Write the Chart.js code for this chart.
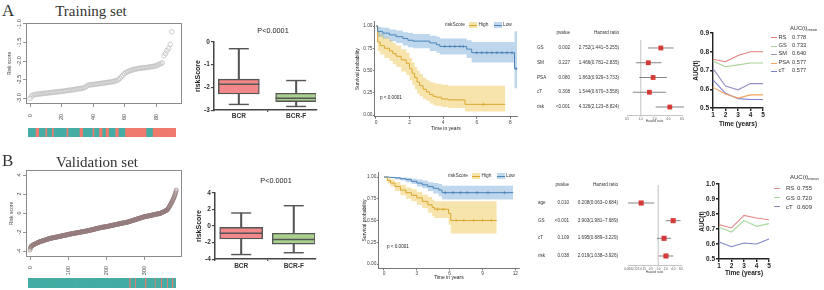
<!DOCTYPE html>
<html><head><meta charset="utf-8">
<script src="https://cdn.jsdelivr.net/npm/chart.js@4.4.1/dist/chart.umd.min.js"></script>
<style>
html,body{margin:0;padding:0;background:#fff;}
#root{position:relative;width:824px;height:290px;overflow:hidden;background:#fff;font-family:"Liberation Sans",Arial,sans-serif;}
canvas{position:absolute;}
.t{position:absolute;white-space:nowrap;line-height:1;}
.t sub{font-size:70%;vertical-align:-0.25em;}
</style></head><body><div id="root"></div>
<script>
// ---------------- DATA ----------------
// Risk score distribution (sorted) - training set
const trainRisk = [-3.01,-2.95,-2.92,-2.91,-2.90,-2.895,-2.89,-2.885,-2.88,-2.875,-2.87,-2.865,-2.86,-2.855,-2.85,-2.845,-2.84,-2.835,-2.83,-2.825,
-2.82,-2.815,-2.81,-2.80,-2.795,-2.79,-2.785,-2.78,-2.775,-2.76,-2.755,-2.75,-2.745,-2.74,-2.73,-2.71,-2.68,-2.65,-2.645,-2.64,
-2.635,-2.63,-2.625,-2.62,-2.61,-2.605,-2.60,-2.595,-2.59,-2.58,-2.575,-2.57,-2.56,-2.55,-2.54,-2.53,-2.51,-2.47,-2.42,-2.38,
-2.34,-2.31,-2.29,-2.27,-2.255,-2.24,-2.23,-2.22,-2.21,-2.20,-2.195,-2.19,-2.185,-2.18,-2.175,-2.17,-2.16,-2.155,-2.15,-2.14,
-2.13,-2.11,-2.09,-2.07,-2.05,-1.86,-1.80,-1.72,-1.66,-1.55,-1.21];
const trainRiskTicksX = [0,20,40,60,80];
const trainRiskTicksY = [-3.0,-2.5,-2.0,-1.5,-1.0];
const trainEventIdx = [5,6,11,15,24,32,33,40,44,45,48,49,54,55,60,61,62,63,64,65,66,67,68,69,70,71,72,77,78,79,80,81,82,83,84,85,86,87,88,89,90];

// Risk score distribution (sorted) - validation set
const valRisk = [
-3.90,-3.70,-3.60,-3.52,-3.47,-3.44,-3.41,-3.39,-3.37,-3.35,-3.33,-3.31,-3.29,-3.27,-3.25,-3.23,-3.21,-3.19,-3.17,-3.15,-3.13,-3.11,-3.09,-3.07,-3.05,-3.04,-3.02,
-3.01,-3.00,-2.98,-2.97,-2.96,-2.94,-2.93,-2.92,-2.90,-2.89,-2.88,-2.86,-2.85,-2.84,-2.82,-2.81,-2.80,-2.78,-2.77,-2.76,-2.74,-2.73,-2.72,-2.71,-2.70,-2.68,-2.67,
-2.66,-2.65,-2.65,-2.64,-2.63,-2.62,-2.61,-2.60,-2.59,-2.59,-2.58,-2.57,-2.56,-2.55,-2.54,-2.53,-2.53,-2.52,-2.51,-2.50,
-2.49,-2.48,-2.47,-2.47,-2.46,-2.45,-2.44,-2.43,-2.42,-2.41,-2.41,-2.40,-2.39,-2.38,-2.37,-2.36,-2.35,-2.35,-2.34,-2.33,
-2.32,-2.31,-2.30,-2.29,-2.29,-2.28,-2.27,-2.25,
-2.24,-2.23,-2.23,-2.22,-2.21,-2.20,-2.20,-2.19,-2.18,-2.17,-2.17,-2.16,-2.15,-2.14,-2.14,-2.13,-2.12,-2.11,-2.11,-2.10,
-2.09,-2.08,-2.08,-2.07,-2.06,-2.05,-2.05,-2.04,-2.03,-2.02,-2.02,-2.01,-2.00,-1.99,-1.99,-1.98,-1.97,-1.96,-1.96,-1.95,
-1.94,-1.93,-1.93,-1.92,-1.91,-1.90,-1.90,-1.89,
-1.88,-1.87,-1.86,-1.85,-1.84,-1.83,-1.82,-1.82,-1.81,-1.80,-1.79,-1.78,-1.77,-1.76,-1.75,-1.74,-1.73,-1.72,-1.71,-1.70,
-1.69,-1.68,-1.67,-1.66,-1.65,-1.64,-1.63,-1.62,-1.61,-1.60,-1.59,-1.58,-1.57,-1.56,-1.55,-1.54,-1.53,-1.52,-1.51,-1.50,
-1.49,-1.49,-1.48,-1.48,-1.47,-1.47,-1.46,-1.46,-1.45,-1.45,-1.44,
-1.43,-1.42,-1.41,-1.41,-1.40,-1.39,-1.38,-1.37,-1.36,-1.35,-1.34,-1.33,-1.33,-1.32,-1.31,-1.30,-1.29,-1.28,-1.27,-1.26,
-1.25,-1.25,-1.24,-1.23,-1.22,-1.21,-1.20,-1.19,-1.18,-1.17,-1.16,-1.16,-1.15,-1.14,-1.13,-1.12,-1.11,-1.10,-1.09,-1.08,
-1.08,-1.07,-1.06,-1.05,-1.04,-1.04,-1.03,-1.02,-1.02,-1.01,-1.00,-0.99,-0.99,-0.98,
-0.97,-0.96,-0.94,-0.93,-0.92,-0.90,-0.89,-0.88,-0.87,-0.85,-0.84,-0.83,-0.82,-0.80,-0.79,-0.78,-0.77,-0.75,-0.74,-0.73,
-0.72,-0.70,-0.69,-0.68,-0.66,-0.65,-0.64,-0.63,-0.61,-0.60,-0.59,-0.57,-0.56,-0.55,-0.53,-0.52,-0.51,-0.49,-0.48,-0.47,
-0.45,-0.44,-0.43,-0.42,-0.41,-0.40,-0.39,
-0.38,-0.37,-0.36,-0.35,-0.35,-0.34,-0.33,-0.32,-0.31,-0.30,-0.29,-0.28,-0.28,-0.27,-0.26,-0.25,-0.24,-0.23,-0.22,-0.21,
-0.21,-0.20,-0.19,-0.18,-0.17,-0.16,-0.15,-0.14,-0.14,-0.13,-0.12,-0.11,-0.10,-0.09,-0.09,-0.08,-0.07,-0.06,-0.06,-0.05,-0.04,
-0.02,0.00,0.02,0.04,0.06,0.08,0.10,0.12,0.14,0.16,0.18,0.20,0.22,0.24,0.26,0.28,0.30,0.32,
0.38,0.44,0.50,0.56,0.62,0.69,0.76,0.84,
0.91,0.98,1.05,1.13,1.21,1.29,1.37,1.45,1.54,
1.64,1.75,1.86,1.98,2.11,2.26,2.42];
const valRiskTicksX = [0,100,200,300];
const valRiskTicksY = [-4,-2,0,2,4];
const valEventIdx = [265,266,267,280,281,306,307,308,331,332,347,348,349,363,364,376,377,378];

// Boxplots
const boxGroups = ['BCR','BCR-F'];
const trainBoxMin = [-2.75,-2.84], trainBoxQ1 = [-2.29,-2.63], trainBoxMed = [-1.86,-2.48], trainBoxQ3 = [-1.64,-2.26], trainBoxMax = [-0.30,-1.70];
const trainBoxTicks = [0,-1,-2,-3];
const valBoxMin = [-3.45,-3.23], valBoxQ1 = [-1.57,-2.19], valBoxMed = [-0.88,-1.63], valBoxQ3 = [-0.16,-0.88], valBoxMax = [1.57,2.45];
const valBoxTicks = [4,2,0,-2,-4];

// Kaplan-Meier - training
const kmTrainHighT = [0,0.1,0.25,0.5,0.8,1.0,1.2,1.5,1.8,2.0,2.15,2.3,2.45,2.6,2.8,3.0,3.2,3.4,3.6,3.9,4.3,5.3,7.7];
const kmTrainHighS = [1,0.82,0.78,0.75,0.72,0.69,0.66,0.62,0.58,0.52,0.47,0.42,0.37,0.33,0.29,0.26,0.23,0.21,0.20,0.18,0.17,0.12,0.12];
const kmTrainHighU = [1,0.94,0.91,0.87,0.84,0.81,0.78,0.74,0.70,0.64,0.59,0.54,0.50,0.46,0.42,0.39,0.37,0.36,0.35,0.34,0.33,0.33,0.33];
const kmTrainHighL = [1,0.72,0.68,0.64,0.61,0.57,0.54,0.49,0.45,0.39,0.34,0.29,0.24,0.21,0.18,0.16,0.13,0.11,0.10,0.09,0.08,0.04,0.04];
const kmTrainHighCensT = [6.4], kmTrainHighCensS = [0.12];
const kmTrainLowT = [0,0.1,0.4,0.8,1.2,1.6,1.9,2.2,3.2,3.6,3.8,5.4,5.7,8.25,8.42];
const kmTrainLowS = [1,0.94,0.92,0.90,0.88,0.86,0.84,0.83,0.81,0.79,0.77,0.74,0.70,0.52,0.52];
const kmTrainLowU = [1,0.99,0.98,0.96,0.95,0.93,0.92,0.91,0.89,0.88,0.86,0.84,0.82,0.94,0.94];
const kmTrainLowL = [1,0.88,0.86,0.83,0.81,0.78,0.76,0.75,0.72,0.70,0.68,0.64,0.59,0.30,0.30];
const kmTrainLowCensT = [4.1,4.4,4.7,5.0,5.2,6.0,6.3,6.6,6.9,7.2,7.5,7.8,8.1,8.35];
const kmTrainLowCensS = [0.77,0.77,0.77,0.77,0.77,0.70,0.70,0.70,0.70,0.70,0.70,0.70,0.70,0.52];
const kmTrainTicks = [0,2,4,6,8];

// Kaplan-Meier - validation
const kmValHighT = [0,0.3,0.6,1.0,1.5,2.0,2.5,3.0,3.5,4.0,4.4,4.6,5.9,6.1,10.3];
const kmValHighS = [1,0.96,0.93,0.89,0.85,0.82,0.79,0.76,0.72,0.68,0.65,0.63,0.58,0.50,0.50];
const kmValHighU = [1,0.99,0.97,0.94,0.91,0.88,0.86,0.83,0.80,0.77,0.74,0.72,0.72,0.72,0.72];
const kmValHighL = [1,0.93,0.89,0.84,0.79,0.75,0.72,0.68,0.64,0.59,0.55,0.53,0.45,0.35,0.35];
const kmValHighCensT = [4.9,5.4,6.6,7.3,8.2,9.0,9.8], kmValHighCensS = [0.63,0.63,0.50,0.50,0.50,0.50,0.50];
const kmValLowT = [0,0.5,1.0,1.5,2.0,2.5,3.0,3.5,4.0,4.5,5.0,5.3,11.8];
const kmValLowS = [1,0.995,0.99,0.98,0.97,0.95,0.93,0.91,0.89,0.87,0.85,0.82,0.82];
const kmValLowU = [1,1,1,0.995,0.99,0.98,0.97,0.96,0.94,0.93,0.92,0.90,0.90];
const kmValLowL = [1,0.99,0.97,0.96,0.94,0.92,0.89,0.87,0.84,0.81,0.78,0.74,0.74];
const kmValLowCensT = [5.6,6.3,7.0,7.6,8.5,9.5,11.0], kmValLowCensS = [0.82,0.82,0.82,0.82,0.82,0.82,0.82];
const kmValTicks = [0,3,6,9,12];
const kmSurvTicks = [0,0.25,0.5,0.75,1];

// Forest plots
const fTrainVars = ['GS','SM','PSA','cT','risk'];
const fTrainP = ['0.002','0.227','0.080','0.308','<0.001'];
const fTrainHR = [2.752,1.466,1.863,1.544,4.326];
const fTrainLo = [1.441,0.781,0.929,0.670,2.123];
const fTrainHi = [5.255,2.835,3.733,3.558,8.824];
const fTrainTicks = [0.5,1,2,4,8];
const fValVars = ['age','GS','cT','risk'];
const fValP = ['0.010','<0.001','0.109','0.038'];
const fValHR = [0.208,3.903,1.695,2.019];
const fValLo = [0.063,1.981,0.889,1.038];
const fValHi = [0.684,7.689,3.229,3.926];
const fValTicks = [0.0625,0.125,0.25,0.5,1,2,4,8];

// Time-dependent AUC
const aucYears = [1,2,3,4,5];
const aucTrainRS = [0.76,0.747,0.78,0.80,0.80];
const aucTrainGS = [0.75,0.72,0.73,0.74,0.74];
const aucTrainSM = [0.71,0.617,0.597,0.63,0.63];
const aucTrainPSA = [0.61,0.575,0.553,0.57,0.57];
const aucTrainCT = [0.65,0.578,0.55,0.545,0.545];
const aucTrainNames = ['RS','GS','SM','PSA','cT'];
const aucTrainMean = ['0.778','0.733','0.640','0.577','0.577'];
const aucTrainTicks = [0.5,0.6,0.7,0.8,0.9];
const aucValRS = [0.729,0.707,0.791,0.773,0.762];
const aucValGS = [0.711,0.68,0.756,0.718,0.736];
const aucValCT = [0.613,0.582,0.607,0.60,0.633];
const aucValNames = ['RS','GS','cT'];
const aucValMean = ['0.755','0.720','0.609'];
const aucValTicks = [0.5,0.6,0.7,0.8,0.9,1.0];

// ---------------- STYLE / HELPERS ----------------
const root = document.getElementById('root');
const FONT = '"Liberation Sans", Arial, sans-serif';
const SERIF = '"Liberation Serif", "DejaVu Serif", serif';
const TEAL = '#45ada4', SALMON = '#ef7a6e';
const HIGH_LINE = '#D9A62E', HIGH_BAND = 'rgba(236,190,60,0.42)';
const LOW_LINE = '#4A83B8', LOW_BAND = 'rgba(100,160,210,0.42)';
const AUC_TRAIN_COLORS = ['#e07e7a','#a8d39a','#9b8cc6','#f2a35e','#7c7fd2'];
const AUC_VAL_COLORS = ['#e08a8a','#a8d89c','#8185c9'];

Chart.defaults.animation = false;
Chart.defaults.responsive = false;
Chart.defaults.maintainAspectRatio = false;
Chart.defaults.devicePixelRatio = 1;
Chart.defaults.events = [];
Chart.defaults.plugins.legend.display = false;
Chart.defaults.plugins.tooltip.enabled = false;
Chart.defaults.font.family = FONT;
Chart.defaults.color = '#333';

function mkCanvas(left, top, w, h){
  const c = document.createElement('canvas');
  c.width = w; c.height = h;
  c.style.left = left+'px'; c.style.top = top+'px';
  c.style.width = w+'px'; c.style.height = h+'px';
  root.appendChild(c); return c;
}
const setTicks = vals => s => { s.ticks = vals.map(v => ({value:v})); };
const fixW = w => s => { s.width = w; };
const fixH = h => s => { s.height = h; };

function T(text, x, y, o = {}){
  const d = document.createElement('div'); d.className = 't';
  d.textContent = text;
  if (o.sub){ const s = document.createElement('sub'); s.textContent = o.sub; d.appendChild(s); }
  d.style.left = x+'px'; d.style.top = y+'px';
  d.style.fontSize = (o.size||6)+'px';
  d.style.fontFamily = o.family || FONT;
  if (o.weight) d.style.fontWeight = o.weight;
  d.style.color = o.color || '#333';
  const ax = o.align==='left' ? '0' : o.align==='right' ? '-100%' : '-50%';
  d.style.transform = `translate(${ax},-50%)` + (o.rot ? ` rotate(${o.rot}deg)` : '');
  root.appendChild(d); return d;
}
function box(x, y, w, h, bg){
  const d = document.createElement('div');
  d.style.cssText = `position:absolute;left:${x}px;top:${y}px;width:${w}px;height:${h}px;background:${bg};`;
  root.appendChild(d); return d;
}

const framePlugin = color => ({id:'frame', afterDatasetsDraw(ch){
  const a = ch.chartArea, c = ch.ctx; c.save(); c.strokeStyle = color; c.lineWidth = 1;
  c.strokeRect(Math.round(a.left)+0.5, Math.round(a.top)+0.5, Math.round(a.right-a.left)-1, Math.round(a.bottom-a.top)-1); c.restore();
}});
const rotYPlugin = (vals, fmt, cx, size) => ({id:'rotY', afterDraw(ch){
  const y = ch.scales.y, c = ch.ctx; c.save(); c.fillStyle = '#444';
  c.font = size+'px '+FONT; c.textAlign = 'center'; c.textBaseline = 'middle';
  vals.forEach(v => { const py = y.getPixelForValue(v); c.save(); c.translate(cx, py); c.rotate(-Math.PI/2); c.fillText(fmt(v), 0, 0); c.restore(); });
  c.restore();
}});

// ---------------- CHART BUILDERS ----------------
function riskPlot(o){
  const cv = mkCanvas(o.left, o.top, o.w, o.h);
  return new Chart(cv, {
    type:'scatter',
    data:{datasets:[{data:o.values.map((v,i)=>({x:i,y:v})), pointStyle:'circle', pointRadius:o.r,
      borderColor:o.color, backgroundColor:'rgba(0,0,0,0)', borderWidth:0.8}]},
    options:{
      layout:{padding:o.pad},
      scales:{
        x:{type:'linear', min:o.xr[0], max:o.xr[1], afterBuildTicks:setTicks(o.xTicks), afterFit:fixH(o.xh),
           border:{display:false},
           grid:{drawOnChartArea:false, tickLength:3, color:'#777', lineWidth:0.8},
           ticks:{minRotation:90, maxRotation:90, padding:o.xpad, font:{size:5.5}, color:'#444', callback:v=>String(v)}},
        y:{type:'linear', min:o.yr[0], max:o.yr[1], afterBuildTicks:setTicks(o.yTicks), afterFit:fixW(o.yw),
           border:{display:false},
           grid:{drawOnChartArea:false, tickLength:3, color:'#777', lineWidth:0.8},
           ticks:{display:false},
           title:{display:true, text:'Risk score', font:{size:5}, color:'#444', padding:{top:o.tpad, bottom:0}}}
      }
    },
    plugins:[framePlugin('#8a8a8a'), rotYPlugin(o.yTicks, o.yFmt, 19, 5.5)]
  });
}

function heatBar(left, top, w, h, n, events){
  const cv = mkCanvas(left, top, w, h);
  const ev = new Set(events);
  const idx = Array.from({length:n}, (_,i)=>i);
  return new Chart(cv, {type:'bar',
    data:{labels:idx, datasets:[{data:idx.map(()=>[0,1]), backgroundColor:idx.map(i=>ev.has(i)?SALMON:TEAL),
      barPercentage:1, categoryPercentage:1, borderWidth:0, inflateAmount:0.4}]},
    options:{layout:{padding:0}, scales:{x:{display:false}, y:{display:false, min:0, max:1}}}});
}

function boxPlot(o){
  const cv = mkCanvas(o.left, o.top, o.w, o.h);
  const idx = boxGroups.map((_,i)=>i);
  return new Chart(cv, {type:'bar',
    data:{datasets:[
      {type:'scatter', data:idx.flatMap(i=>[{x:i,y:o.min[i]},{x:i,y:o.max[i]}]), pointStyle:'line', pointRadius:10, borderColor:'#555', borderWidth:1.4},
      {type:'scatter', data:idx.map(i=>({x:i,y:o.med[i]})), pointStyle:'line', pointRadius:o.bw/2, borderColor:'#555', borderWidth:1.4},
      {type:'bar', data:idx.map(i=>({x:i,y:[o.q1[i],o.q3[i]]})), backgroundColor:['#f2888a','#a9d08e'], borderColor:'#555',
        borderWidth:1.4, borderSkipped:false, barThickness:o.bw, grouped:false},
      {type:'bar', data:idx.map(i=>({x:i,y:[o.min[i],o.max[i]]})), backgroundColor:'#555', borderWidth:0, barThickness:1.4, grouped:false}
    ]},
    options:{
      layout:{padding:o.pad},
      scales:{
        x:{type:'linear', min:o.xr[0], max:o.xr[1], offset:false, afterBuildTicks:setTicks(idx), afterFit:fixH(o.xh),
           border:{color:'#444', width:1.5},
           grid:{drawOnChartArea:false, tickLength:2, color:'#444', lineWidth:1.2},
           ticks:{callback:v=>boxGroups[v], font:{size:6.5, weight:'bold'}, color:'#333', padding:o.xpad, maxRotation:0}},
        y:{min:o.yr[0], max:o.yr[1], afterBuildTicks:setTicks(o.ticks), afterFit:fixW(o.yw),
           border:{color:'#444', width:1.5},
           grid:{drawOnChartArea:false, tickLength:3, color:'#444', lineWidth:1.2},
           ticks:{font:{size:6.5, weight:'bold'}, color:'#333', padding:1},
           title:{display:true, text:'riskScore', font:{size:7, weight:'bold'}, color:'#222', padding:{top:o.tpad, bottom:0}}}
      }
    }});
}

function kmPlot(o){
  const cv = mkCanvas(o.left, o.top, o.w, o.h);
  const P = (t,s)=>t.map((x,i)=>({x, y:s[i]}));
  const band = (d, fill, bg)=>({type:'line', data:d, stepped:'before', borderWidth:0, borderColor:'rgba(0,0,0,0)', pointRadius:0, fill, backgroundColor:bg});
  const line = (d, c)=>({type:'line', data:d, stepped:'before', borderWidth:1, borderColor:c, pointRadius:0, fill:false});
  const cens = (d, c)=>({type:'scatter', data:d, pointStyle:'cross', pointRadius:1.7, borderColor:c, backgroundColor:c, borderWidth:0.7});
  return new Chart(cv, {type:'line',
    data:{datasets:[
      cens(P(o.low.ct, o.low.cs), LOW_LINE),
      cens(P(o.high.ct, o.high.cs), HIGH_LINE),
      line(P(o.low.t, o.low.s), LOW_LINE),
      line(P(o.high.t, o.high.s), HIGH_LINE),
      band(P(o.low.t, o.low.u), '+1', LOW_BAND),
      band(P(o.low.t, o.low.l), false, LOW_BAND),
      band(P(o.high.t, o.high.u), '+1', HIGH_BAND),
      band(P(o.high.t, o.high.l), false, HIGH_BAND)
    ]},
    options:{
      layout:{padding:o.pad},
      scales:{
        x:{type:'linear', min:o.xr[0], max:o.xr[1], afterBuildTicks:setTicks(o.xTicks), afterFit:fixH(o.xh),
           border:{color:'#555', width:0.8},
           grid:{drawOnChartArea:false, tickLength:2, color:'#555', lineWidth:0.8},
           ticks:{font:{size:4.8}, color:'#444', padding:o.xpad, maxRotation:0},
           title:{display:true, text:'Time in years', font:{size:5}, color:'#222', padding:{top:0, bottom:o.xtpad}}},
        y:{type:'linear', min:o.yr[0], max:o.yr[1], afterBuildTicks:setTicks(kmSurvTicks), afterFit:fixW(o.yw),
           border:{color:'#555', width:0.8},
           grid:{drawOnChartArea:false, tickLength:1.5, color:'#555', lineWidth:0.8},
           ticks:{font:{size:4.8}, color:'#444', padding:0.5, callback:v=>v.toFixed(2)},
           title:{display:true, text:'Survival probability', font:{size:5}, color:'#222', padding:{top:o.ytpad, bottom:0}}}
      }
    }});
}

function kmLegend(x, y){
  T('riskScore', x, y, {size:4.8, align:'left', color:'#333'});
  const keys = [[x+24, HIGH_BAND, HIGH_LINE, 'High'], [x+48.5, LOW_BAND, LOW_LINE, 'Low']];
  keys.forEach(([kx, bg, lc, lab]) => {
    box(kx, y-3, 8, 6, bg);
    box(kx, y-0.4, 8, 0.9, lc);
    T(lab, kx+9.5, y, {size:4.8, align:'left', color:'#333'});
  });
}

function forestPlot(o){
  const cv = mkCanvas(o.left, o.top, o.w, o.h);
  const rows = o.hr.map((_,i)=>i);
  const ds = [
    {type:'scatter', data:rows.map(i=>({x:o.hr[i], y:i})), pointStyle:'rect', pointRadius:o.r, backgroundColor:'#d63a36', borderColor:'#d63a36', borderWidth:0, clip:8}
  ];
  rows.forEach(i => ds.push({type:'line', data:[{x:o.lo[i],y:i},{x:o.hi[i],y:i}], borderColor:'#666', borderWidth:0.8, pointRadius:0, clip:8}));
  ds.push({type:'line', data:[{x:1,y:o.yr[0]},{x:1,y:o.yr[1]}], borderColor:'#cfcfcf', borderWidth:0.6, pointRadius:0});
  const ch = new Chart(cv, {type:'scatter', data:{datasets:ds},
    options:{
      layout:{padding:o.pad},
      scales:{
        x:{type:'logarithmic', min:o.xr[0], max:o.xr[1], afterBuildTicks:setTicks(o.ticks), afterFit:fixH(o.xh),
           border:{color:'#888', width:0.5},
           grid:{drawOnChartArea:false, tickLength:1.5, color:'#888', lineWidth:0.5},
           ticks:{font:{size:3}, color:'#555', padding:0.5, maxRotation:0, autoSkip:false, callback:v=> v<1 ? String(+v.toFixed(3)) : v.toFixed(1)},
           title:{display:true, text:'Hazard ratio', font:{size:3.2}, color:'#444', padding:{top:0, bottom:o.xtpad}}},
        y:{display:false, type:'linear', min:o.yr[0], max:o.yr[1], reverse:true}
      }
    }});
  const ys = ch.scales.y;
  T('pvalue', o.pRight, o.headY, {size:4.6, align:'right'});
  T('Hazard ratio', o.hrRight, o.headY, {size:4.6, align:'right'});
  rows.forEach(i => {
    const py = o.top + ys.getPixelForValue(i);
    T(o.vars[i], o.labLeft, py, {size:4.6, align:'left'});
    T(o.p[i], o.pRight, py, {size:4.6, align:'right'});
    T(`${o.hr[i].toFixed(3)}(${o.lo[i].toFixed(3)}~${o.hi[i].toFixed(3)})`, o.hrRight, py, {size:4.6, align:'right'});
  });
  return ch;
}

function aucPlot(o){
  const cv = mkCanvas(o.left, o.top, o.w, o.h);
  return new Chart(cv, {type:'line',
    data:{datasets:o.series.map((s,i)=>({data:aucYears.map((x,j)=>({x, y:s[j]})), borderColor:o.colors[i], borderWidth:1.1, pointRadius:0, fill:false, clip:false}))},
    options:{
      layout:{padding:o.pad},
      scales:{
        x:{type:'linear', min:1, max:5, afterBuildTicks:setTicks(aucYears), afterFit:fixH(o.xh),
           border:{color:'#222', width:1.4},
           grid:{drawOnChartArea:false, tickLength:3, color:'#222', lineWidth:1.4},
           ticks:{font:{size:6.5, weight:'bold'}, color:'#222', padding:o.xpad, maxRotation:0},
           title:{display:true, text:'Time (years)', font:{size:6.5, weight:'bold'}, color:'#222', padding:{top:0, bottom:o.xtpad}}},
        y:{min:o.yr[0], max:o.yr[1], afterBuildTicks:setTicks(o.ticks), afterFit:fixW(o.yw),
           border:{color:'#222', width:1.4},
           grid:{drawOnChartArea:false, tickLength:3, color:'#222', lineWidth:1.4},
           ticks:{font:{size:6.5, weight:'bold'}, color:'#222', padding:1, callback:v=>v.toFixed(1)},
           title:{display:true, text:'AUC(t)', font:{size:6.5, weight:'bold'}, color:'#222', padding:{top:o.ytpad, bottom:0}}}
      }
    }});
}

function aucLegend(x, headY, rowYs, lineX0, lineX1, labX, valX, names, means, colors, size){
  T('AUC(t)', x, headY, {size:size, align:'left', sub:'mean', color:'#333'});
  names.forEach((n,i) => {
    box(lineX0, rowYs[i]-0.5, lineX1-lineX0, 1, colors[i]);
    T(n, labX, rowYs[i], {size:size, align:'left', color:'#333'});
    T(means[i], valX, rowYs[i], {size:size, align:'left', color:'#333'});
  });
}

// ---------------- ROW A : TRAINING ----------------
T('A', 2, 10, {size:17, family:SERIF, align:'left', color:'#333'});
T('Training set', 91, 11, {size:15, family:SERIF, color:'#333'});

riskPlot({left:0, top:14, w:192, h:120, pad:{left:0,right:10,top:9,bottom:0}, xh:30, yw:26, xpad:7, tpad:7,
  values:trainRisk, xr:[-2.54,96.5], xTicks:trainRiskTicksX, yr:[-3.162,-0.973], yTicks:trainRiskTicksY,
  yFmt:v=>v.toFixed(1), r:2.3, color:'#c2c2c2'});
heatBar(28, 128, 148, 9, trainRisk.length, trainEventIdx);

boxPlot({left:192, top:20, w:146, h:112, pad:{left:0,right:2,top:16,bottom:0}, yw:21, xh:15, xpad:0.5, tpad:0.8, bw:41,
  min:trainBoxMin, q1:trainBoxQ1, med:trainBoxMed, q3:trainBoxQ3, max:trainBoxMax, yr:[-3,0], ticks:trainBoxTicks, xr:[-0.435,1.348]});
T('P<0.0001', 273, 31, {size:7.3, color:'#222'});

kmPlot({left:350, top:16, w:172, h:118, pad:{left:0,right:4,top:5.55,bottom:0}, yw:24.5, xh:17.2, xpad:0.7, xtpad:2.7, ytpad:5,
  xr:[-0.089,8.415], yr:[-0.02,1.05], xTicks:kmTrainTicks,
  high:{t:kmTrainHighT, s:kmTrainHighS, u:kmTrainHighU, l:kmTrainHighL, ct:kmTrainHighCensT, cs:kmTrainHighCensS},
  low:{t:kmTrainLowT, s:kmTrainLowS, u:kmTrainLowU, l:kmTrainLowL, ct:kmTrainLowCensT, cs:kmTrainLowCensS}});
kmLegend(445, 25);
T('p < 0.0001', 380, 98, {size:4.6, align:'left', color:'#222'});

forestPlot({left:615, top:35, w:75, h:95, pad:{left:12,right:8,top:5,bottom:0}, xh:15, xtpad:6.9, r:3.4,
  xr:[0.5,8], ticks:fTrainTicks, yr:[-0.54,4.54],
  vars:fTrainVars, p:fTrainP, hr:fTrainHR, lo:fTrainLo, hi:fTrainHi, labLeft:537, pRight:570, hrRight:619, headY:33.3});

aucPlot({left:684, top:26, w:84, h:104, pad:{left:0,right:5,top:7,bottom:0}, yw:29, xh:22, xpad:0.5, xtpad:2, ytpad:8.5,
  yr:[0.5,0.9], ticks:aucTrainTicks, series:[aucTrainRS,aucTrainGS,aucTrainSM,aucTrainPSA,aucTrainCT], colors:AUC_TRAIN_COLORS});
aucLegend(790, 29, [37.7,46,54.3,63,71], 770.7, 776.7, 778.5, 792, aucTrainNames, aucTrainMean, AUC_TRAIN_COLORS, 5.7);

// ---------------- ROW B : VALIDATION ----------------
T('B', 2, 160, {size:17, family:SERIF, align:'left', color:'#333'});
T('Validation set', 97, 162, {size:15, family:SERIF, color:'#333'});

riskPlot({left:0, top:160, w:192, h:118, pad:{left:0,right:10,top:10,bottom:0}, xh:21, yw:26, xpad:6, tpad:9,
  values:valRisk, xr:[-10.5,399], xTicks:valRiskTicksX, yr:[-4.63,4.53], yTicks:valRiskTicksY,
  yFmt:v=>String(v), r:2.0, color:'rgba(150,125,125,0.85)'});
heatBar(28, 278, 148, 10, valRisk.length, valEventIdx);

boxPlot({left:192, top:170, w:146, h:112, pad:{left:0,right:3,top:12.7,bottom:0}, yw:21, xh:14.3, xpad:0.8, tpad:0.8, bw:43,
  min:valBoxMin, q1:valBoxQ1, med:valBoxMed, q3:valBoxQ3, max:valBoxMax, yr:[-4,4], ticks:valBoxTicks, xr:[-0.5,1.406]});
T('P<0.0001', 276, 181, {size:7.3, color:'#222'});

kmPlot({left:350, top:165, w:174, h:116, pad:{left:0,right:4,top:7.65,bottom:0}, yw:28.3, xh:12.65, xpad:0, xtpad:0, ytpad:11.3,
  xr:[-0.52,12.36], yr:[-0.05,1.05], xTicks:kmValTicks,
  high:{t:kmValHighT, s:kmValHighS, u:kmValHighU, l:kmValHighL, ct:kmValHighCensT, cs:kmValHighCensS},
  low:{t:kmValLowT, s:kmValLowS, u:kmValLowU, l:kmValLowL, ct:kmValLowCensT, cs:kmValLowCensS}});
kmLegend(448, 176);
T('p < 0.0001', 387, 247, {size:4.6, align:'left', color:'#222'});

forestPlot({left:616, top:180, w:75, h:100, pad:{left:12,right:10,top:5,bottom:0}, xh:15, xtpad:6.2, r:3.6,
  xr:[0.0625,8], ticks:fValTicks, yr:[-1.02,3.51],
  vars:fValVars, p:fValP, hr:fValHR, lo:fValLo, hi:fValHi, labLeft:538, pRight:569, hrRight:618, headY:185});

aucPlot({left:690, top:178, w:84, h:102, pad:{left:0,right:5,top:6,bottom:0}, yw:29, xh:21, xpad:0, xtpad:2.5, ytpad:8.5,
  yr:[0.5,1.0], ticks:aucValTicks, series:[aucValRS,aucValGS,aucValCT], colors:AUC_VAL_COLORS});
aucLegend(790, 178.3, [188.3,197.7,206.7], 774, 780, 786, 797, aucValNames, aucValMean, AUC_VAL_COLORS, 6);
</script></body></html>
